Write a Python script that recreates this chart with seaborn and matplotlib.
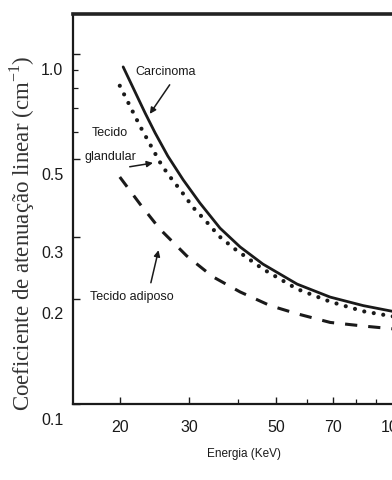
import matplotlib
matplotlib.use("Agg")
import matplotlib.pyplot as plt
import matplotlib.transforms as mtransforms
from matplotlib import font_manager, ticker
import numpy as np
import pandas as pd
import seaborn as sns

# ---------------- data ----------------
carcinoma_E = [20.4, 23.2, 24.6, 26.5, 29.0, 32.0, 36.0, 40.5, 46.3, 56.6, 68.7, 83.4, 98.9, 110]
carcinoma_mu = [0.918, 0.678, 0.595, 0.511, 0.437, 0.375, 0.318, 0.281, 0.251, 0.220, 0.202, 0.191, 0.184, 0.182]

glandular_E = [20.0, 22.5, 25.3, 26.5, 28.8, 30.7, 33.3, 36.0, 39.3, 46.3, 56.6, 68.7, 83.4, 98.9, 110]
glandular_mu = [0.811, 0.623, 0.491, 0.454, 0.403, 0.365, 0.331, 0.300, 0.277, 0.243, 0.213, 0.196, 0.184, 0.178, 0.176]

adiposo_E = [20.0, 22.5, 25.3, 29.6, 34.5, 40.5, 48.3, 56.6, 68.7, 83.4, 98.9, 110]
adiposo_mu = [0.445, 0.373, 0.316, 0.265, 0.231, 0.209, 0.191, 0.181, 0.171, 0.167, 0.164, 0.163]

x_ticks = [20, 30, 50, 70, 100]
x_ticklabels = ["20", "30", "50", "70", "100"]
x_minor = [40, 60, 80, 90]
y_ticks = [0.1, 0.2, 0.3, 0.5, 1.0]
y_ticklabels = ["0.1", "0.2", "0.3", "0.5", "1.0"]
y_minor = [0.6, 0.7, 0.8, 0.9]

xlabel = "Energia (KeV)"
ylabel = "Coeficiente de atenuação linear (cm$^{-1}$)"

# ---------------- style ----------------
sns.set_style("ticks")
available = {f.name for f in font_manager.fontManager.ttflist}
narrow = "Liberation Sans Narrow" if "Liberation Sans Narrow" in available else "Liberation Sans"
plt.rcParams["font.family"] = [narrow, "DejaVu Sans"]
plt.rcParams["mathtext.fontset"] = "custom"
plt.rcParams["mathtext.rm"] = "Liberation Serif"

ink = "#1a1a1a"

fig = plt.figure(figsize=(3.92, 4.81), dpi=100)
fig.patch.set_facecolor("white")
# axes extend past the right edge of the figure (the original is cropped)
ax = fig.add_axes([73 / 392, 76 / 481, 342 / 392, 390 / 481])

df_c = pd.DataFrame({"E": carcinoma_E, "mu": carcinoma_mu})
df_g = pd.DataFrame({"E": glandular_E, "mu": glandular_mu})
df_a = pd.DataFrame({"E": adiposo_E, "mu": adiposo_mu})

sns.lineplot(data=df_c, x="E", y="mu", ax=ax, color=ink, lw=2.0, estimator=None)
sns.lineplot(data=df_g, x="E", y="mu", ax=ax, color=ink, lw=3.0,
             linestyle=(0, (0.01, 2.3)), dash_capstyle="round", estimator=None)
sns.lineplot(data=df_a, x="E", y="mu", ax=ax, color=ink, lw=2.2,
             linestyle=(0, (4, 3.6)), dash_capstyle="butt", estimator=None)

ax.set_xscale("log")
ax.set_yscale("log")
ax.set_xlim(15.2, 113)
ax.set_ylim(0.1, 1.3)

ax.xaxis.set_major_locator(ticker.FixedLocator(x_ticks))
ax.xaxis.set_major_formatter(ticker.FixedFormatter(x_ticklabels))
ax.xaxis.set_minor_locator(ticker.FixedLocator(x_minor))
ax.xaxis.set_minor_formatter(ticker.NullFormatter())
ax.yaxis.set_major_locator(ticker.FixedLocator(y_ticks))
ax.yaxis.set_major_formatter(ticker.FixedFormatter(y_ticklabels))
ax.yaxis.set_minor_locator(ticker.FixedLocator(y_minor))
ax.yaxis.set_minor_formatter(ticker.NullFormatter())

ax.tick_params(axis="both", which="major", direction="in", length=5, width=1.0,
               colors=ink, labelsize=11.5)
ax.tick_params(axis="both", which="minor", direction="in", length=3.5, width=0.9, colors=ink)
ax.tick_params(axis="x", which="major", pad=11)
ax.tick_params(axis="y", which="major", pad=7)

# the y tick labels in the original sit slightly below their ticks
offset = mtransforms.ScaledTranslation(0, -10 / 72, fig.dpi_scale_trans)
for lab in ax.yaxis.get_majorticklabels():
    lab.set_transform(lab.get_transform() + offset)

for side in ["left", "bottom"]:
    ax.spines[side].set_linewidth(1.6)
    ax.spines[side].set_color(ink)
ax.spines["top"].set_linewidth(2.6)
ax.spines["top"].set_color("#222222")
ax.spines["right"].set_visible(False)

ax.set_xlabel(xlabel, fontsize=8.5, color=ink)
ax.xaxis.set_label_coords(0.5, -0.11)
ax.xaxis.label.set_va("top")
ax.set_ylabel(ylabel, fontsize=16.5, color="#333333", family=["Liberation Serif", "DejaVu Serif"])
ax.yaxis.set_label_coords(-0.149, 0.441)
ax.yaxis.label.set_va("center")

# ---------------- annotations ----------------
arrow = dict(arrowstyle="-|>", color=ink, lw=1.1, mutation_scale=9, shrinkA=0, shrinkB=0)
ax.text(26.2, 0.894, "Carcinoma", fontsize=9, color=ink, ha="center", va="center")
ax.annotate("", xy=(23.85, 0.674), xytext=(26.8, 0.816), arrowprops=arrow)

ax.text(18.9, 0.599, "Tecido", fontsize=9, color=ink, ha="center", va="center")
ax.text(18.9, 0.511, "glandular", fontsize=9, color=ink, ha="center", va="center")
ax.annotate("", xy=(24.3, 0.488), xytext=(21.2, 0.476), arrowprops=arrow)

ax.text(21.5, 0.203, "Tecido adiposo", fontsize=9, color=ink, ha="center", va="center")
ax.annotate("", xy=(25.1, 0.275), xytext=(24.0, 0.222), arrowprops=arrow)

fig.savefig("out.png", dpi=100, facecolor="white")
